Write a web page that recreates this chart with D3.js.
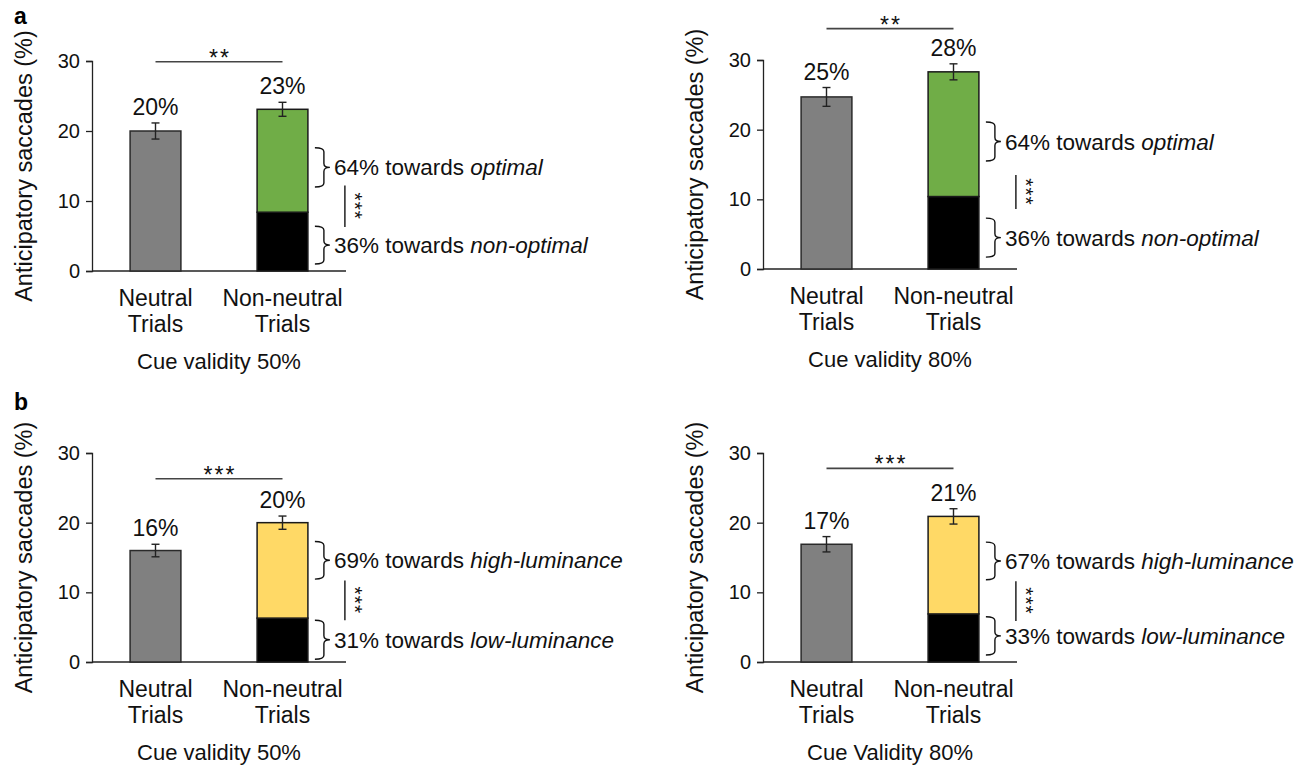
<!DOCTYPE html>
<html>
<head>
    <title>Anticipatory saccades</title>
    <style>
        body { margin: 0; background: #fff; }
        svg { font-family: "Liberation Sans", Arial, sans-serif; }
        .axis path, .axis line { stroke: #222; stroke-width: 1.3px; }
        .axis text { font-size: 20px; fill: #111; }
        .txt { font-size: 22px; fill: #111; }
    </style>
    <script src="https://d3js.org/d3.v7.min.js"></script>
</head>
<body>
<svg width="1309" height="766"></svg>
<script>
// ---- data (panels: a-50%, a-80%, b-50%, b-80%) ----
const categories = ["Neutral", "Non-neutral"];
const categoryLines = [["Neutral", "Trials"], ["Non-neutral", "Trials"]];
const yTicks = [0, 10, 20, 30];

const neutralMeans = [20.0, 24.7, 16.0, 16.9];
const neutralErrs = [1.15, 1.35, 0.9, 1.1];
const nonNeutralMeans = [23.1, 28.3, 20.0, 20.9];
const nonNeutralErrs = [1.0, 1.15, 0.95, 1.1];
const lowerParts = [8.4, 10.4, 6.3, 6.9];

const neutralLabels = ["20%", "25%", "16%", "17%"];
const nonNeutralLabels = ["23%", "28%", "20%", "21%"];

const upperPct = ["64%", "64%", "69%", "67%"];
const upperTarget = ["optimal", "optimal", "high-luminance", "high-luminance"];
const lowerPct = ["36%", "36%", "31%", "33%"];
const lowerTarget = ["non-optimal", "non-optimal", "low-luminance", "low-luminance"];

const upperColors = ["#70ad47", "#70ad47", "#ffd966", "#ffd966"];
const conditionTitles = ["Cue validity 50%", "Cue validity 80%", "Cue validity 50%", "Cue Validity 80%"];

const betweenStars = ["**", "**", "***", "***"];
const betweenLevel = [29.9, 34.5, 26.3, 27.8];
const upperBrace = [[17.6, 12.0], [21.1, 15.5], [17.3, 11.9], [17.2, 11.8]];
const lowerBrace = [[6.4, 1.0], [7.3, 1.7], [6.0, 0.4], [6.5, 1.0]];
const withinLine = [[12.2, 6.3], [13.5, 8.6], [11.7, 6.0], [11.6, 5.9]];

const panelLetters = ["a", null, "b", null];

// panel placement
const axisX = [92, 763, 92, 763];
const axisTop = [61, 60, 453, 453];
const axisBottom = [271, 269, 662, 662];
const axisWidth = 254;

const svg = d3.select("svg");

function brace(x0, x1, x2, yTop, yBot) {
    const r = 4, yc = (yTop + yBot) / 2;
    return `M${x0},${yTop} Q${x1},${yTop} ${x1},${yTop + r} L${x1},${yc - r} ` +
           `Q${x1},${yc} ${x2},${yc} Q${x1},${yc} ${x1},${yc + r} ` +
           `L${x1},${yBot - r} Q${x1},${yBot} ${x0},${yBot}`;
}

function drawPanel(i) {
    const g = svg.append("g");
    const x = d3.scaleBand().domain(categories)
        .range([axisX[i], axisX[i] + axisWidth]).paddingInner(0.6).paddingOuter(0.3);
    const y = d3.scaleLinear().domain([0, 30]).range([axisBottom[i], axisTop[i]]);
    const bw = x.bandwidth();

    // x axis line
    g.append("line")
        .attr("x1", axisX[i]).attr("x2", axisX[i] + axisWidth)
        .attr("y1", y(0)).attr("y2", y(0))
        .attr("stroke", "#222").attr("stroke-width", 1.3);

    // y axis
    g.append("g").attr("class", "axis")
        .attr("transform", `translate(${axisX[i]},0)`)
        .call(d3.axisLeft(y).tickValues(yTicks).tickSizeOuter(0).tickSize(6).tickPadding(6));

    // y title
    const yMid = (axisTop[i] + axisBottom[i]) / 2;
    g.append("text").attr("class", "txt").style("font-size", "23.5px")
        .attr("transform", `translate(${axisX[i] - 60},${yMid}) rotate(-90)`)
        .attr("text-anchor", "middle")
        .text("Anticipatory saccades (%)");

    const xN = x("Neutral"), xNN = x("Non-neutral");
    const cN = xN + bw / 2, cNN = xNN + bw / 2;

    // neutral bar
    g.append("rect")
        .attr("x", xN).attr("y", y(neutralMeans[i]))
        .attr("width", bw).attr("height", y(0) - y(neutralMeans[i]))
        .attr("fill", "#808080").attr("stroke", "#2a2a2a").attr("stroke-width", 1.5);

    // non-neutral stacked bar
    const stack = [
        { lo: 0, hi: lowerParts[i], fill: "#000" },
        { lo: lowerParts[i], hi: nonNeutralMeans[i], fill: upperColors[i] }
    ];
    g.selectAll(".seg").data(stack).enter().append("rect")
        .attr("x", xNN).attr("y", d => y(d.hi))
        .attr("width", bw).attr("height", d => y(d.lo) - y(d.hi))
        .attr("fill", d => d.fill).attr("stroke", "#1a1a1a").attr("stroke-width", 1.5);

    // error bars
    const errs = [
        { c: cN, m: neutralMeans[i], e: neutralErrs[i], label: neutralLabels[i] },
        { c: cNN, m: nonNeutralMeans[i], e: nonNeutralErrs[i], label: nonNeutralLabels[i] }
    ];
    errs.forEach(d => {
        const eg = g.append("g").attr("stroke", "#222").attr("stroke-width", 1.4);
        eg.append("line").attr("x1", d.c).attr("x2", d.c).attr("y1", y(d.m - d.e)).attr("y2", y(d.m + d.e));
        eg.append("line").attr("x1", d.c - 4).attr("x2", d.c + 4).attr("y1", y(d.m - d.e)).attr("y2", y(d.m - d.e));
        eg.append("line").attr("x1", d.c - 4).attr("x2", d.c + 4).attr("y1", y(d.m + d.e)).attr("y2", y(d.m + d.e));
        g.append("text").attr("class", "txt").style("font-size", "23px")
            .attr("x", d.c).attr("y", y(d.m + d.e) - 8)
            .attr("text-anchor", "middle").text(d.label);
    });

    // category labels
    categories.forEach((c, k) => {
        categoryLines[k].forEach((line, j) => {
            g.append("text").attr("class", "txt").style("font-size", "23px")
                .attr("x", x(c) + bw / 2).attr("y", y(0) + 35 + j * 26)
                .attr("text-anchor", "middle").text(line);
        });
    });

    // condition title
    g.append("text").attr("class", "txt")
        .attr("x", (cN + cNN) / 2).attr("y", y(0) + 98)
        .attr("text-anchor", "middle").text(conditionTitles[i]);

    // between-condition significance
    g.append("line")
        .attr("x1", cN).attr("x2", cNN)
        .attr("y1", y(betweenLevel[i])).attr("y2", y(betweenLevel[i]))
        .attr("stroke", "#444").attr("stroke-width", 1.6);
    g.append("text").attr("class", "txt").style("font-size", "23px").style("letter-spacing", "2px")
        .attr("x", (cN + cNN) / 2 + 1).attr("y", y(betweenLevel[i]) + 4)
        .attr("text-anchor", "middle").text(betweenStars[i]);

    // braces and their labels
    const bx = xNN + bw;
    const braces = [
        { span: upperBrace[i], pct: upperPct[i], target: upperTarget[i] },
        { span: lowerBrace[i], pct: lowerPct[i], target: lowerTarget[i] }
    ];
    braces.forEach(b => {
        const yt = y(b.span[0]), yb = y(b.span[1]);
        g.append("path")
            .attr("d", brace(bx + 7, bx + 16, bx + 22, yt, yb))
            .attr("fill", "none").attr("stroke", "#111").attr("stroke-width", 1.4);
        const t = g.append("text").attr("class", "txt").style("font-size", "22.5px")
            .attr("x", bx + 26).attr("y", (yt + yb) / 2 + 8);
        t.append("tspan").text(b.pct + " towards ");
        t.append("tspan").style("font-style", "italic").text(b.target);
    });

    // within-bar significance
    const wy0 = y(withinLine[i][0]), wy1 = y(withinLine[i][1]);
    g.append("line")
        .attr("x1", bx + 37).attr("x2", bx + 37).attr("y1", wy0).attr("y2", wy1)
        .attr("stroke", "#111").attr("stroke-width", 1.4);
    g.append("text").attr("class", "txt").style("font-size", "21px").style("letter-spacing", "1px")
        .attr("transform", `translate(${bx + 40},${(wy0 + wy1) / 2}) rotate(90)`)
        .attr("text-anchor", "middle").text("***");

    if (panelLetters[i]) {
        g.append("text").attr("x", 14).attr("y", i === 0 ? 24 : 410)
            .style("font-size", "23px").style("font-weight", "bold").attr("fill", "#000")
            .text(panelLetters[i]);
    }
}

[0, 1, 2, 3].forEach(drawPanel);
</script>
</body>
</html>
